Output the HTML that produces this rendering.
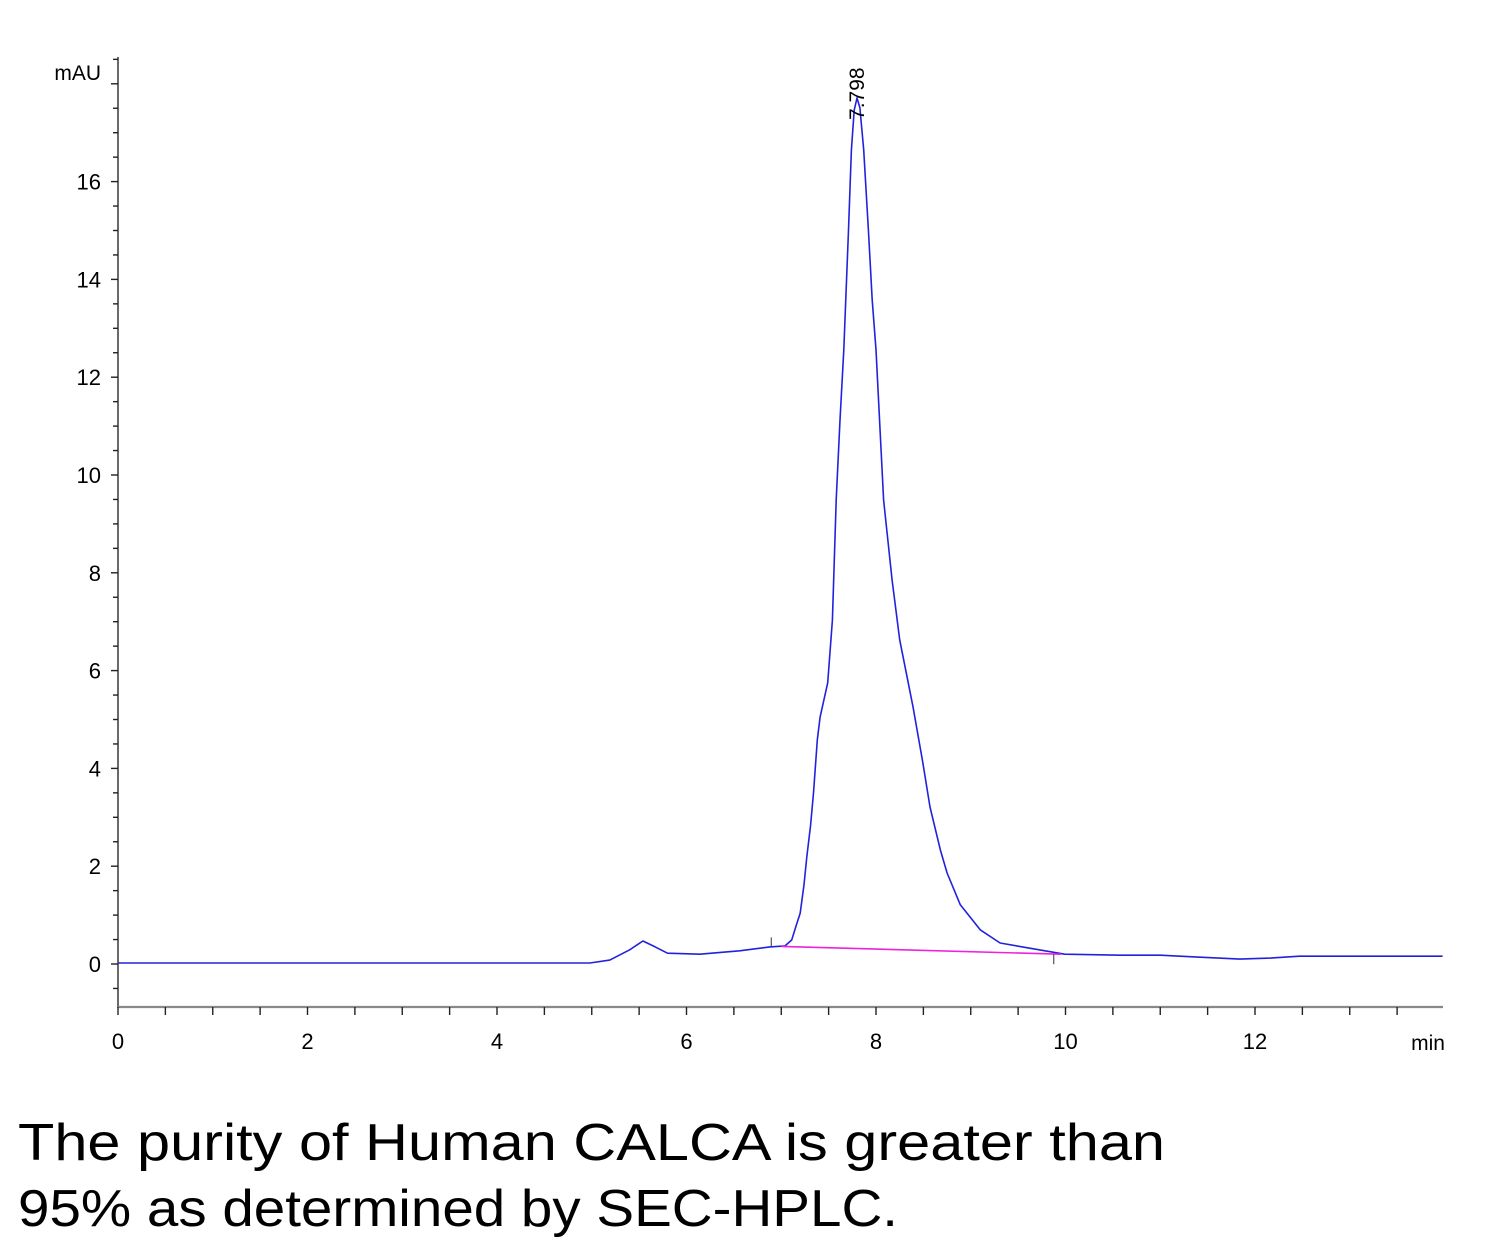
<!DOCTYPE html>
<html><head><meta charset="utf-8"><style>
html,body{margin:0;padding:0;background:#fff;}
svg{display:block;}
</style></head><body>
<svg id="chart" width="1500" height="1252" xmlns="http://www.w3.org/2000/svg">
<g id="axes"></g>
<g id="plot"></g>
<text x="18" y="1160" font-family="Liberation Sans, sans-serif" font-size="52" textLength="1147" lengthAdjust="spacingAndGlyphs" fill="#000">The purity of Human CALCA is greater than</text>
<text x="18" y="1226" font-family="Liberation Sans, sans-serif" font-size="52" textLength="880" lengthAdjust="spacingAndGlyphs" fill="#000">95% as determined by SEC-HPLC.</text>
</svg>
<script>
const times = [0,2.98,4.98,5.19,5.40,5.54,5.67,5.80,6.14,6.56,6.88,7.04,7.11,7.16,7.20,7.24,7.27,7.31,7.34,7.38,7.41,7.45,7.49,7.54,7.58,7.62,7.66,7.71,7.74,7.77,7.80,7.83,7.87,7.92,7.96,8.00,8.08,8.17,8.25,8.39,8.49,8.57,8.68,8.75,8.89,9.10,9.31,9.66,9.99,10.58,11.00,11.42,11.84,12.16,12.47,13.98];
const mau = [0.02,0.02,0.02,0.08,0.29,0.47,0.35,0.22,0.20,0.27,0.35,0.37,0.49,0.80,1.04,1.62,2.19,2.84,3.50,4.58,5.05,5.40,5.75,7.03,9.49,11.12,12.56,15.01,16.65,17.46,17.71,17.51,16.65,15.01,13.58,12.56,9.49,7.85,6.63,5.26,4.17,3.21,2.33,1.86,1.21,0.70,0.43,0.31,0.20,0.18,0.18,0.14,0.10,0.12,0.16,0.16];
const baselineT = [7.0, 9.95];
const baselineV = [0.36, 0.20];
const xTickLabels = ["0","2","4","6","8","10","12"];
const yTickLabels = ["0","2","4","6","8","10","12","14","16"];
const peakLabel = "7.798";
const peakTime = 7.798;
const peakValue = 17.71;

const NS = "http://www.w3.org/2000/svg";
const X0 = 118, XPX = 94.75, Y0 = 964, YPX = 48.9;
const sx = t => X0 + t * XPX;
const sy = v => Y0 - v * YPX;
const axes = document.getElementById('axes');
const plot = document.getElementById('plot');
function mk(tag, attrs, parent) {
  const e = document.createElementNS(NS, tag);
  for (const k in attrs) e.setAttribute(k, attrs[k]);
  parent.appendChild(e);
  return e;
}
const font = 'Liberation Sans, sans-serif';
// y axis
let yl = mk('line', {x1: X0, y1: 57, x2: X0, y2: 1008, stroke: '#444', 'stroke-width': 1.6}, axes);


// x axis
let xl = mk('line', {x1: X0, y1: 1007, x2: 1443, y2: 1007, stroke: '#888', 'stroke-width': 2.2}, axes);


// y ticks every 0.5
for (let v = -0.5; sy(v) >= 58; v += 0.5) {
  const major = Math.abs(v % 2) < 1e-6;
  const t = mk('line', {x1: X0 - (major ? 7 : 5), y1: sy(v), x2: X0, y2: sy(v), stroke: '#222', 'stroke-width': 1.4}, axes);
  
  
}
yTickLabels.forEach(l => {
  const t = mk('text', {x: 101, y: sy(+l) + 8, 'text-anchor': 'end', 'font-family': font, 'font-size': 22, fill: '#000', transform: ''}, axes);
  t.textContent = l;
  
  
});
const mauL = mk('text', {x: 101, y: 80, 'text-anchor': 'end', 'font-family': font, 'font-size': 21, fill: '#000'}, axes);
mauL.textContent = 'mAU';


// x ticks every 0.5
for (let t = 0; sx(t) <= 1443; t += 0.5) {
  const k = mk('line', {x1: sx(t), y1: 1007, x2: sx(t), y2: 1015, stroke: '#222', 'stroke-width': 1.4}, axes);
  
  
}
xTickLabels.forEach(l => {
  const t = mk('text', {x: sx(+l), y: 1049, 'text-anchor': 'middle', 'font-family': font, 'font-size': 22, fill: '#000'}, axes);
  t.textContent = l;
  
  
});
const minL = mk('text', {x: 1428, y: 1050, 'text-anchor': 'middle', 'font-family': font, 'font-size': 21, fill: '#000'}, axes);
minL.textContent = 'min';


// trace
const d = times.map((t, i) => (i ? 'L' : 'M') + sx(t).toFixed(1) + ' ' + sy(mau[i]).toFixed(1)).join(' ');
const trace = mk('path', {d: d, fill: 'none', stroke: '#2222dd', 'stroke-width': 1.6, 'stroke-linejoin': 'round'}, plot);


// integration baseline
const bl = mk('line', {x1: sx(baselineT[0]), y1: sy(baselineV[0]), x2: sx(baselineT[1]), y2: sy(baselineV[1]), stroke: '#ee22dd', 'stroke-width': 1.6}, plot);


const m1 = mk('line', {x1: sx(baselineT[0]) - 10, y1: sy(baselineV[0]), x2: sx(baselineT[0]) - 10, y2: sy(baselineV[0]) - 9, stroke: '#333', 'stroke-width': 1}, plot);


const m2 = mk('line', {x1: sx(baselineT[1]) - 7, y1: sy(baselineV[1]), x2: sx(baselineT[1]) - 7, y2: sy(baselineV[1]) + 10, stroke: '#333', 'stroke-width': 1}, plot);


// peak label
const px = sx(peakTime) + 7, py = sy(peakValue) + 22;
const pl = mk('text', {x: px, y: py, 'font-family': font, 'font-size': 21, fill: '#000', transform: 'rotate(-90 ' + px + ' ' + py + ')'}, plot);
pl.textContent = peakLabel;


</script>
</body></html>
